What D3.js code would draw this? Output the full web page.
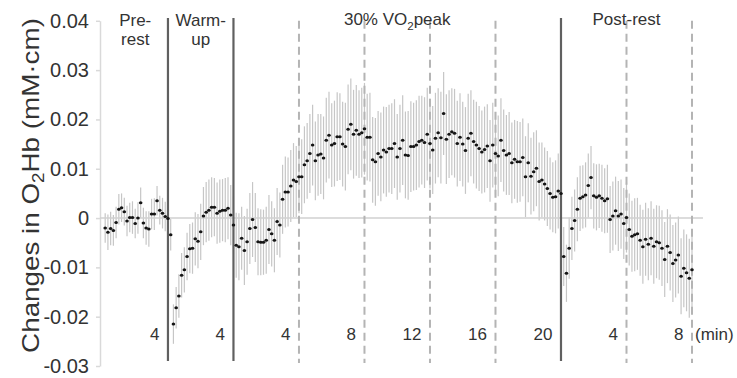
<!DOCTYPE html>
<html>
<head>
<meta charset="utf-8">
<script src="https://cdn.jsdelivr.net/npm/d3@7"></script>
<style>
  html, body { margin: 0; padding: 0; background: #fff; }
  svg { display: block; font-family: "Liberation Sans", Arial, sans-serif; }
</style>
</head>
<body>
<svg id="chart" width="737" height="378"></svg>
<script>
const WIDTH = 737;
const HEIGHT = 378;

// 10-s bins, minutes from start of pre-rest
const SAMPLE_MIN = 1 / 6;

const PHASE_BOUNDS = [0, 4, 8, 28, 36];
const PHASE_LABELS = [["Pre-", "rest"], ["Warm-", "up"], ["30% VO₂peak"], ["Post-rest"]];
const SOLID_LINES = [4, 8, 28];
const DASHED_LINES = [12, 16, 20, 24, 32, 36];
const X_TICKS = [4, 8, 12, 16, 20, 24, 28, 32, 36];
const X_TICK_LABELS = ["4", "4", "4", "8", "12", "16", "20", "4", "8"];
const Y_TICKS = [-0.03, -0.02, -0.01, 0, 0.01, 0.02, 0.03, 0.04];
const Y_TICK_LABELS = ["-0.03", "-0.02", "-0.01", "0", "0.01", "0.02", "0.03", "0.04"];

const preMean = [-0.0020, -0.0029, -0.0021, -0.0025, -0.0009, 0.0018, 0.0021, 0.0013, -0.0006, 0.0001,
    0.0001, -0.0011, 0.0000, 0.0031, -0.0010, -0.0020, -0.0022, 0.0008, 0.0008, 0.0035,
    0.0016, 0.0010, 0.0003, -0.0001];
const preSD = [0.0030, 0.0036, 0.0034, 0.0031, 0.0032, 0.0031, 0.0029, 0.0028, 0.0031, 0.0030,
    0.0033, 0.0030, 0.0032, 0.0031, 0.0031, 0.0034, 0.0036, 0.0031, 0.0032, 0.0030,
    0.0029, 0.0031, 0.0030, 0.0028];

const warmMean = [-0.0034, -0.0215, -0.0182, -0.0158, -0.0116, -0.0105, -0.0078, -0.0062, -0.0061, -0.0042,
    -0.0047, -0.0028, 0.0004, 0.0012, 0.0016, 0.0022, 0.0022, 0.0010, 0.0014, 0.0016,
    0.0016, 0.0020, 0.0006, -0.0014];
const warmSD = [0.0032, 0.0040, 0.0042, 0.0044, 0.0045, 0.0046, 0.0048, 0.0050, 0.0052, 0.0054,
    0.0055, 0.0057, 0.0059, 0.0061, 0.0062, 0.0061, 0.0059, 0.0062, 0.0064, 0.0063,
    0.0065, 0.0063, 0.0061, 0.0058];

const exMean = [-0.0055, -0.0058, -0.0041, -0.0066, -0.0048, -0.0021, -0.0003, -0.0019, -0.0048, -0.0049,
    -0.0049, -0.0045, -0.0023, -0.0032, -0.0045, -0.0007, -0.0014, 0.0038, 0.0053, 0.0053,
    0.0065, 0.0077, 0.0074, 0.0084, 0.0084, 0.0108, 0.0116, 0.0131, 0.0148, 0.0116,
    0.0128, 0.0130, 0.0122, 0.0158, 0.0168, 0.0148, 0.0151, 0.0165, 0.0165, 0.0150,
    0.0145, 0.0180, 0.0190, 0.0170, 0.0178, 0.0170, 0.0173, 0.0181, 0.0164, 0.0164,
    0.0118, 0.0114, 0.0131, 0.0124, 0.0138, 0.0134, 0.0141, 0.0141, 0.0151, 0.0124,
    0.0141, 0.0158, 0.0128, 0.0127, 0.0145, 0.0145, 0.0148, 0.0155, 0.0158, 0.0153,
    0.0170, 0.0151, 0.0138, 0.0162, 0.0173, 0.0163, 0.0212, 0.0160, 0.0170, 0.0175,
    0.0172, 0.0151, 0.0164, 0.0150, 0.0137, 0.0162, 0.0172, 0.0155, 0.0148, 0.0141,
    0.0134, 0.0139, 0.0146, 0.0116, 0.0148, 0.0131, 0.0126, 0.0158, 0.0137, 0.0128,
    0.0131, 0.0112, 0.0119, 0.0114, 0.0114, 0.0123, 0.0084, 0.0112, 0.0085, 0.0094,
    0.0101, 0.0074, 0.0077, 0.0069, 0.0060, 0.0050, 0.0042, 0.0043, 0.0055, 0.0050];
const exSD = [0.0066, 0.0068, 0.0064, 0.0070, 0.0067, 0.0072, 0.0076, 0.0070, 0.0068, 0.0067,
    0.0066, 0.0068, 0.0070, 0.0066, 0.0065, 0.0068, 0.0066, 0.0070, 0.0072, 0.0070,
    0.0073, 0.0075, 0.0072, 0.0074, 0.0076, 0.0078, 0.0077, 0.0080, 0.0082, 0.0080,
    0.0083, 0.0081, 0.0084, 0.0086, 0.0088, 0.0085, 0.0087, 0.0090, 0.0088, 0.0086,
    0.0089, 0.0091, 0.0093, 0.0090, 0.0092, 0.0089, 0.0091, 0.0093, 0.0088, 0.0090,
    0.0087, 0.0089, 0.0086, 0.0090, 0.0088, 0.0091, 0.0089, 0.0092, 0.0090, 0.0087,
    0.0089, 0.0091, 0.0088, 0.0090, 0.0092, 0.0089, 0.0091, 0.0093, 0.0090, 0.0092,
    0.0094, 0.0091, 0.0089, 0.0092, 0.0090, 0.0093, 0.0084, 0.0091, 0.0089, 0.0088,
    0.0090, 0.0087, 0.0089, 0.0086, 0.0088, 0.0090, 0.0087, 0.0085, 0.0088, 0.0086,
    0.0084, 0.0087, 0.0085, 0.0083, 0.0086, 0.0084, 0.0082, 0.0085, 0.0083, 0.0081,
    0.0084, 0.0082, 0.0080, 0.0083, 0.0081, 0.0079, 0.0082, 0.0080, 0.0078, 0.0080,
    0.0077, 0.0079, 0.0076, 0.0074, 0.0076, 0.0073, 0.0071, 0.0074, 0.0076, 0.0073];

const postMean = [-0.0078, -0.0112, -0.0061, -0.0021, -0.0005, 0.0018, 0.0040, 0.0043, 0.0047, 0.0066,
    0.0082, 0.0045, 0.0042, 0.0045, 0.0040, 0.0035, 0.0039, -0.0003, 0.0004, 0.0015,
    0.0004, 0.0008, -0.0011, 0.0001, -0.0023, -0.0037, -0.0034, -0.0032, -0.0045, -0.0058,
    -0.0043, -0.0053, -0.0041, -0.0057, -0.0048, -0.0050, -0.0061, -0.0084, -0.0057, -0.0070,
    -0.0092, -0.0085, -0.0075, -0.0118, -0.0102, -0.0111, -0.0122, -0.0105];
const postSD = [0.0060, 0.0058, 0.0062, 0.0064, 0.0063, 0.0065, 0.0066, 0.0064, 0.0066, 0.0065,
    0.0064, 0.0066, 0.0067, 0.0065, 0.0068, 0.0066, 0.0069, 0.0068, 0.0070, 0.0069,
    0.0071, 0.0070, 0.0072, 0.0071, 0.0073, 0.0072, 0.0074, 0.0073, 0.0072, 0.0075,
    0.0074, 0.0073, 0.0075, 0.0076, 0.0074, 0.0075, 0.0077, 0.0076, 0.0075, 0.0077,
    0.0078, 0.0076, 0.0078, 0.0077, 0.0079, 0.0078, 0.0080, 0.0079];

const means = [...preMean, ...warmMean, ...exMean, ...postMean];
const sds = [...preSD, ...warmSD, ...exSD, ...postSD];
const points = means.map((m, i) => ({ t: (i + 1) * SAMPLE_MIN, mean: m, sd: sds[i] }));

const PLOT_LEFT = 100;
const PLOT_TOP = 20.8;
const PLOT_BOTTOM = 366;

const x = d3.scaleLinear().domain([-0.15, 36]).range([PLOT_LEFT, 692]);
const y = d3.scaleLinear().domain([-0.03, 0.04]).range([PLOT_BOTTOM, PLOT_TOP]);

const svg = d3.select("#chart");

// y axis
const yAxis = svg.append("g")
    .attr("transform", `translate(${PLOT_LEFT},0)`)
    .call(d3.axisLeft(y)
        .tickValues(Y_TICKS)
        .tickFormat((_d, i) => Y_TICK_LABELS[i])
        .tickSize(4)
        .tickSizeOuter(0)
        .tickPadding(7));
yAxis.select(".domain").attr("stroke", "#d9d9d9").attr("stroke-width", 1.5);
yAxis.selectAll(".tick line").attr("stroke", "#d9d9d9").attr("stroke-width", 1.5);
yAxis.selectAll(".tick text")
    .attr("fill", "#333")
    .style("font-size", "20px")
    .style("font-family", "'Liberation Sans', Arial, sans-serif");

// error bars
svg.append("g")
    .selectAll("line")
    .data(points)
    .enter()
    .append("line")
    .attr("x1", (d) => x(d.t))
    .attr("x2", (d) => x(d.t))
    .attr("y1", (d) => y(d.mean - d.sd))
    .attr("y2", (d) => y(d.mean + d.sd))
    .attr("stroke", "#c6c6c6")
    .attr("stroke-width", 1.2);

// zero line
svg.append("line")
    .attr("x1", PLOT_LEFT)
    .attr("x2", x(36.67))
    .attr("y1", y(0))
    .attr("y2", y(0))
    .attr("stroke", "#d0d0d0")
    .attr("stroke-width", 1.5);

svg.append("g")
    .selectAll("line")
    .data(DASHED_LINES)
    .enter()
    .append("line")
    .attr("x1", (d) => x(d))
    .attr("x2", (d) => x(d))
    .attr("y1", PLOT_TOP)
    .attr("y2", 363)
    .attr("stroke", "#b4b4b4")
    .attr("stroke-width", 2)
    .attr("stroke-dasharray", "8,5");

svg.append("g")
    .selectAll("line")
    .data(SOLID_LINES)
    .enter()
    .append("line")
    .attr("x1", (d) => x(d))
    .attr("x2", (d) => x(d))
    .attr("y1", 18)
    .attr("y2", 361)
    .attr("stroke", "#606060")
    .attr("stroke-width", 2.2);

// mean points
svg.append("g")
    .selectAll("ellipse")
    .data(points)
    .enter()
    .append("ellipse")
    .attr("cx", (d) => x(d.t))
    .attr("cy", (d) => y(d.mean))
    .attr("rx", 1.8)
    .attr("ry", 1.5)
    .attr("fill", "#151515");

// x tick labels (minutes within each phase)
svg.append("g")
    .selectAll("text")
    .data(X_TICKS)
    .enter()
    .append("text")
    .attr("x", (d) => x(d) - 8.5)
    .attr("y", 339.5)
    .attr("text-anchor", "end")
    .attr("fill", "#333")
    .style("font-size", "17px")
    .text((_d, i) => X_TICK_LABELS[i]);

svg.append("text")
    .attr("x", x(36) + 3)
    .attr("y", 339.5)
    .attr("fill", "#333")
    .style("font-size", "17px")
    .text("(min)");

// writes a string into a text element, turning "₂" into a subscript tspan
function addRichText(sel, str) {
    const parts = str.split("₂");
    parts.forEach((p, i) => {
        if (i > 0) {
            sel.append("tspan").attr("dy", 5).style("font-size", "0.68em").text("2");
            sel.append("tspan").attr("dy", -5).text(p);
        } else {
            sel.append("tspan").text(p);
        }
    });
}

// phase labels
PHASE_LABELS.forEach((lines, i) => {
    const cx = x((PHASE_BOUNDS[i] + PHASE_BOUNDS[i + 1]) / 2);
    lines.forEach((line, j) => {
        const t = svg.append("text")
            .attr("x", cx)
            .attr("y", lines.length > 1 ? 26 + j * 19 : 25)
            .attr("text-anchor", "middle")
            .attr("fill", "#333")
            .style("font-size", "17px");
        addRichText(t, line);
    });
});

// y axis title, stretched along its length to the original's span
const yTitle = svg.append("text")
    .attr("text-anchor", "middle")
    .attr("fill", "#333")
    .style("font-size", "23px");
addRichText(yTitle, "Changes in O₂Hb (mM·cm)");
const titleLen = yTitle.node().getComputedTextLength();
yTitle.attr("transform", `translate(38.5,185.5) rotate(-90) scale(${335 / titleLen},1)`);
</script>
</body>
</html>
